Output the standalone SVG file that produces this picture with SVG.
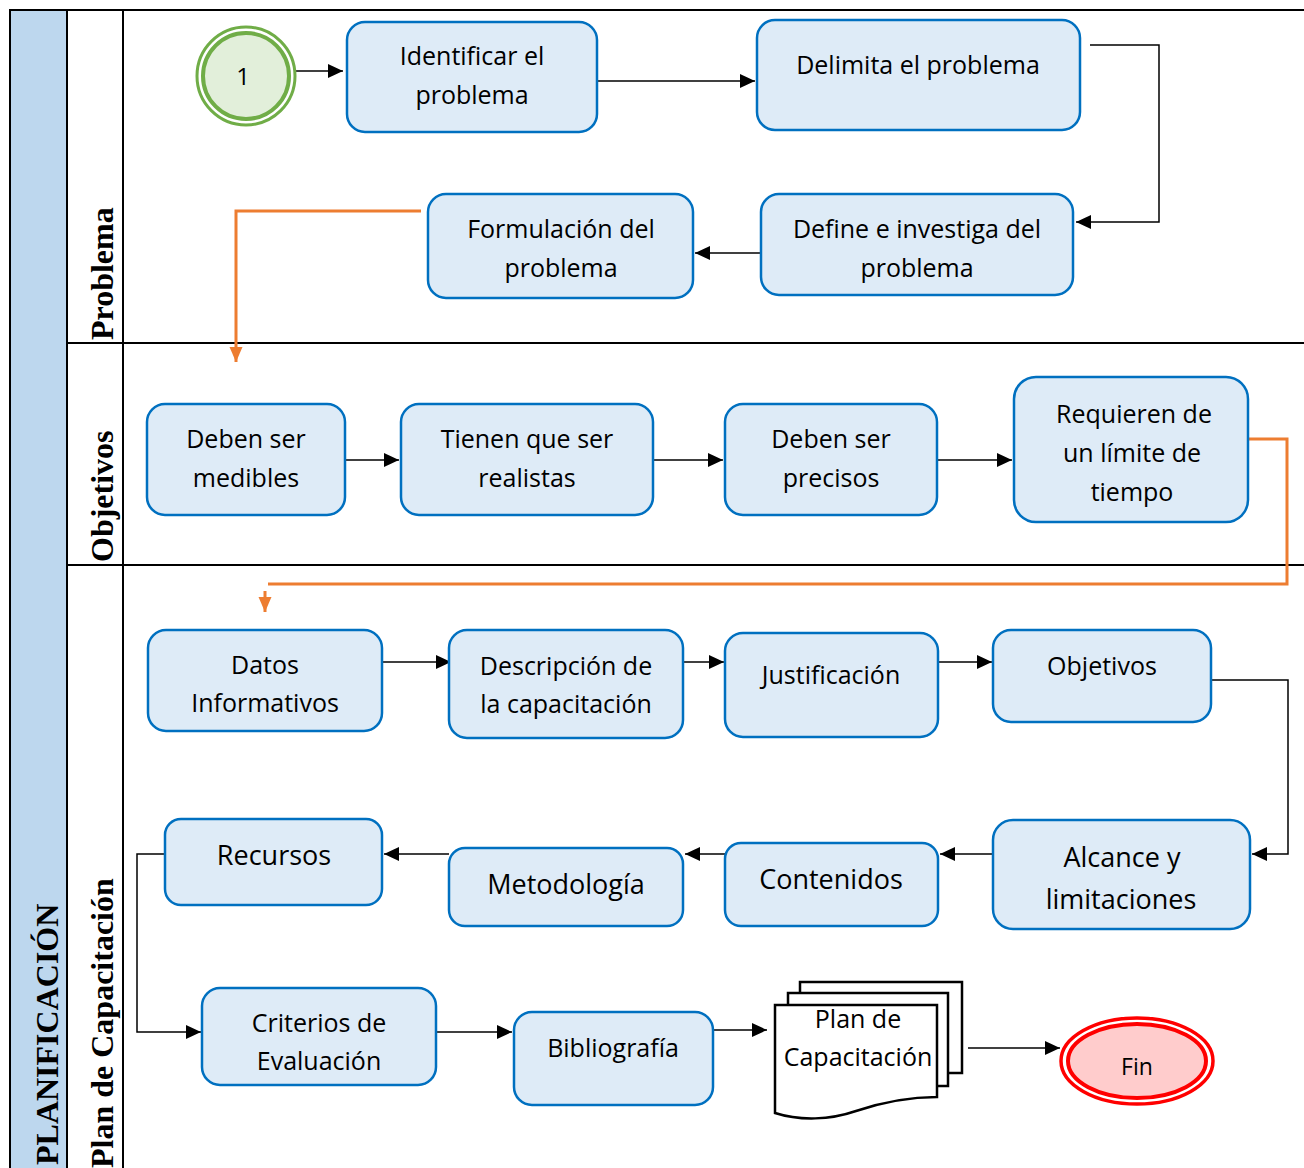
<svg xmlns="http://www.w3.org/2000/svg" width="1304" height="1168" viewBox="0 0 1304 1168">
<defs>
<marker id="ab" markerUnits="userSpaceOnUse" markerWidth="17" markerHeight="16" refX="15" refY="8" orient="auto"><path d="M0,1 L15,8 L0,15 z" fill="#000"/></marker>
<marker id="ao" markerUnits="userSpaceOnUse" markerWidth="17" markerHeight="16" refX="15" refY="8" orient="auto"><path d="M0,1.5 L15,8 L0,14.5 z" fill="#ED7D31"/></marker>
<style>
.box{fill:#DEEBF7;stroke:#0070C0;stroke-width:2.5}
.t{font-family:"Open Sans","DejaVu Sans",sans-serif;font-size:25px;fill:#000;text-anchor:middle}
.tb{font-family:"Open Sans","DejaVu Sans",sans-serif;font-size:27px;fill:#000;text-anchor:middle}
.lane{font-family:"Liberation Serif","Times New Roman",serif;font-size:32px;font-weight:bold;fill:#000}
.c{fill:none;stroke:#000;stroke-width:1.5}
.co{fill:none;stroke:#ED7D31;stroke-width:3}
.doc{fill:#fff;stroke:#000;stroke-width:2.5}
</style>
</defs>
<rect width="1304" height="1168" fill="#fff"/>
<g id="pool">
<rect x="10" y="10" width="57" height="1170" fill="#BDD7EE" stroke="#000" stroke-width="2"/>
<line x1="10" y1="10" x2="1304" y2="10" stroke="#000" stroke-width="2"/>
<line x1="123" y1="10" x2="123" y2="1168" stroke="#000" stroke-width="2"/>
<line x1="67" y1="343" x2="1304" y2="343" stroke="#000" stroke-width="2"/>
<line x1="67" y1="565" x2="1304" y2="565" stroke="#000" stroke-width="2"/>
<text class="lane" transform="translate(58,1165) rotate(-90)">PLANIFICACIÓN</text>
<text class="lane" transform="translate(113,340) rotate(-90)">Problema</text>
<text class="lane" transform="translate(113,562) rotate(-90)">Objetivos</text>
<text class="lane" transform="translate(113,1168) rotate(-90)">Plan de Capacitación</text>
</g>
<g id="connectors">
<line class="c" x1="288" y1="71" x2="343" y2="71" marker-end="url(#ab)"/>
<line class="c" x1="597" y1="81" x2="755" y2="81" marker-end="url(#ab)"/>
<polyline class="c" points="1090,45 1159,45 1159,222 1076,222" marker-end="url(#ab)"/>
<line class="c" x1="761" y1="253" x2="695" y2="253" marker-end="url(#ab)"/>
<polyline class="co" points="421,211 236,211 236,362" marker-end="url(#ao)"/>
<line class="c" x1="345" y1="460" x2="399" y2="460" marker-end="url(#ab)"/>
<line class="c" x1="653" y1="460" x2="723" y2="460" marker-end="url(#ab)"/>
<line class="c" x1="937" y1="460" x2="1012" y2="460" marker-end="url(#ab)"/>
<polyline class="co" points="1249,439 1287,439 1287,584 268,584"/>
<line class="co" x1="265" y1="591" x2="265" y2="612" marker-end="url(#ao)"/>
<line class="c" x1="382" y1="662" x2="451" y2="662" marker-end="url(#ab)"/>
<line class="c" x1="683" y1="662" x2="724" y2="662" marker-end="url(#ab)"/>
<line class="c" x1="938" y1="662" x2="992" y2="662" marker-end="url(#ab)"/>
<polyline class="c" points="1211,680 1288,680 1288,854 1252,854" marker-end="url(#ab)"/>
<line class="c" x1="993" y1="854" x2="940" y2="854" marker-end="url(#ab)"/>
<line class="c" x1="725" y1="854" x2="685" y2="854" marker-end="url(#ab)"/>
<line class="c" x1="449" y1="854" x2="384" y2="854" marker-end="url(#ab)"/>
<polyline class="c" points="165,854 137,854 137,1032 201,1032" marker-end="url(#ab)"/>
<line class="c" x1="436" y1="1032" x2="512" y2="1032" marker-end="url(#ab)"/>
<line class="c" x1="713" y1="1030" x2="767" y2="1030" marker-end="url(#ab)"/>
<line class="c" x1="968" y1="1048" x2="1060" y2="1048" marker-end="url(#ab)"/>
</g>
<g id="start">
<circle cx="246" cy="76" r="49" fill="#fff" stroke="#70AD47" stroke-width="3"/>
<circle cx="246" cy="76" r="43" fill="#E2EFDA" stroke="#70AD47" stroke-width="4"/>
<text class="t" x="243" y="85" style="font-size:24px">1</text>
</g>
<g id="identificar"><rect class="box" x="347" y="22" width="250" height="110" rx="18"/><text class="t" x="472" y="65">Identificar el</text><text class="t" x="472" y="104">problema</text></g>
<g id="delimita"><rect class="box" x="757" y="20" width="323" height="110" rx="18"/><text class="t" x="918" y="74">Delimita el problema</text></g>
<g id="define"><rect class="box" x="761" y="194" width="312" height="101" rx="18"/><text class="t" x="917" y="238">Define e investiga del</text><text class="t" x="917" y="277">problema</text></g>
<g id="formulacion"><rect class="box" x="428" y="194" width="265" height="104" rx="18"/><text class="t" x="561" y="238">Formulación del</text><text class="t" x="561" y="277">problema</text></g>
<g id="medibles"><rect class="box" x="147" y="404" width="198" height="111" rx="18"/><text class="t" x="246" y="448">Deben ser</text><text class="t" x="246" y="487">medibles</text></g>
<g id="realistas"><rect class="box" x="401" y="404" width="252" height="111" rx="18"/><text class="t" x="527" y="448">Tienen que ser</text><text class="t" x="527" y="487">realistas</text></g>
<g id="precisos"><rect class="box" x="725" y="404" width="212" height="111" rx="18"/><text class="t" x="831" y="448">Deben ser</text><text class="t" x="831" y="487">precisos</text></g>
<g id="limite"><rect class="box" x="1014" y="377" width="234" height="145" rx="22"/><text class="t" x="1134" y="423">Requieren de</text><text class="t" x="1132" y="462">un límite de</text><text class="t" x="1132" y="501">tiempo</text></g>
<g id="datos"><rect class="box" x="148" y="630" width="234" height="101" rx="18"/><text class="t" x="265" y="674">Datos</text><text class="t" x="265" y="712">Informativos</text></g>
<g id="descripcion"><rect class="box" x="449" y="630" width="234" height="108" rx="18"/><text class="t" x="566" y="675">Descripción de</text><text class="t" x="566" y="713">la capacitación</text></g>
<g id="justificacion"><rect class="box" x="725" y="633" width="213" height="104" rx="18"/><text class="t" x="831" y="684">Justificación</text></g>
<g id="objetivos"><rect class="box" x="993" y="630" width="218" height="92" rx="18"/><text class="t" x="1102" y="675">Objetivos</text></g>
<g id="alcance"><rect class="box" x="993" y="820" width="257" height="109" rx="20"/><text class="tb" x="1122" y="867">Alcance y</text><text class="tb" x="1121" y="909">limitaciones</text></g>
<g id="contenidos"><rect class="box" x="725" y="843" width="213" height="83" rx="16"/><text class="tb" x="831" y="889">Contenidos</text></g>
<g id="metodologia"><rect class="box" x="449" y="848" width="234" height="78" rx="16"/><text class="tb" x="566" y="894">Metodología</text></g>
<g id="recursos"><rect class="box" x="165" y="819" width="217" height="86" rx="16"/><text class="tb" x="274" y="865">Recursos</text></g>
<g id="criterios"><rect class="box" x="202" y="988" width="234" height="97" rx="18"/><text class="t" x="319" y="1032">Criterios de</text><text class="t" x="319" y="1070">Evaluación</text></g>
<g id="bibliografia"><rect class="box" x="514" y="1012" width="199" height="93" rx="18"/><text class="t" x="613" y="1057">Bibliografía</text></g>
<g id="plan">
<rect class="doc" x="800" y="982" width="162" height="91"/>
<rect class="doc" x="788" y="993" width="160" height="93"/>
<path class="doc" d="M775,1005 H937 V1097 C905,1097 880,1103 856,1111 C830,1120 800,1121 775,1113 Z"/>
<text class="t" x="858" y="1028">Plan de</text>
<text class="t" x="858" y="1066">Capacitación</text>
</g>
<g id="fin">
<ellipse cx="1137" cy="1061" rx="76" ry="43" fill="#fff" stroke="#FF0000" stroke-width="3.5"/>
<ellipse cx="1137" cy="1061" rx="69" ry="37" fill="#FFCCCC" stroke="#FF0000" stroke-width="4"/>
<text class="t" x="1137" y="1075" style="font-size:23px">Fin</text>
</g>
</svg>
